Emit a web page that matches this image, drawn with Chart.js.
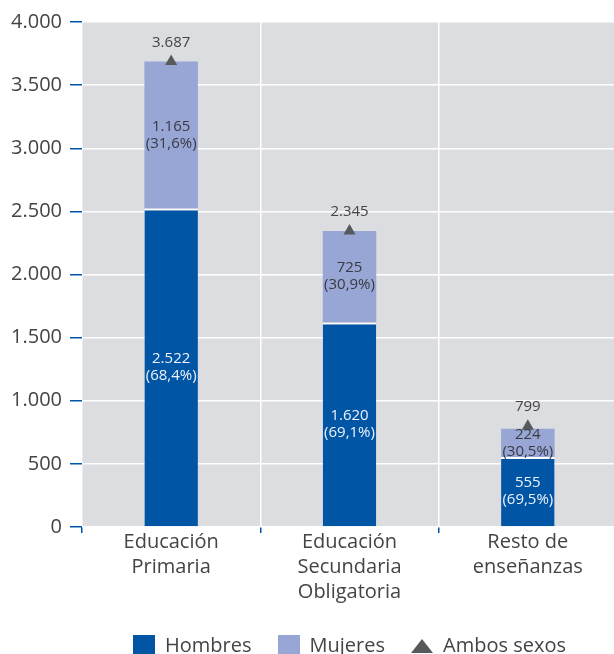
<!DOCTYPE html>
<html>
<head>
<meta charset="utf-8">
<script src="https://cdn.jsdelivr.net/npm/chart.js@4.4.0/dist/chart.umd.min.js"></script>
<style>
    html, body { margin: 0; padding: 0; background: #ffffff; overflow: hidden; }
</style>
</head>
<body>
<!-- the plot runs a few pixels past the right edge in the source, so the canvas is a bit wider than the window -->
<canvas id="chart" width="617" height="654"></canvas>
<script>
// --- Data ---
const categories = [
    ['Educación', 'Primaria'],
    ['Educación', 'Secundaria', 'Obligatoria'],
    ['Resto de', 'enseñanzas']
];
const hombres = [2522, 1620, 555];
const mujeres = [1165, 725, 224];
const ambosSexos = [3687, 2345, 799];
const hombresPct = ['68,4%', '69,1%', '69,5%'];
const mujeresPct = ['31,6%', '30,9%', '30,5%'];
const seriesLabels = ['Hombres', 'Mujeres', 'Ambos sexos'];
const yMax = 4000;
const yStep = 500;

const BLUE = '#0055a5';
const LILAC = '#97a6d4';
const DARK = '#58595b';
const TEXT = '#444444';
const FONT = "'Open Sans', sans-serif";

// Spanish thousands separator
function fmt(n) {
    return String(n).replace(/\B(?=(\d{3})+(?!\d))/g, '.');
}

// --- Small canvases used as legend icons ---
function squareIcon(color) {
    const c = document.createElement('canvas');
    c.width = 22; c.height = 22;
    const g = c.getContext('2d');
    g.fillStyle = color;
    g.fillRect(0, 0, 22, 22);
    return c;
}

function triangleIcon(color) {
    const c = document.createElement('canvas');
    c.width = 22; c.height = 22;
    const g = c.getContext('2d');
    g.fillStyle = color;
    g.beginPath();
    g.moveTo(0, 18);
    g.lineTo(11, 4);
    g.lineTo(22, 18);
    g.closePath();
    g.fill();
    return c;
}

const legendIcons = [squareIcon(BLUE), squareIcon(LILAC), triangleIcon(DARK)];

// --- Gray plot background ---
const plotBackground = {
    id: 'plotBackground',
    beforeDraw(chart) {
        const { ctx, chartArea: a } = chart;
        ctx.save();
        ctx.fillStyle = '#dcdde0';
        ctx.fillRect(a.left, a.top, a.right - a.left, a.bottom - a.top);
        ctx.restore();
    }
};

// --- Value labels inside bars and above the triangles ---
const valueLabels = {
    id: 'valueLabels',
    afterDatasetsDraw(chart) {
        const { ctx } = chart;
        ctx.save();
        ctx.textAlign = 'center';
        ctx.textBaseline = 'middle';
        ctx.font = '15px ' + FONT;

        const pctSets = [hombresPct, mujeresPct];
        const colors = ['#eef2fa', '#3a3a42'];
        [0, 1].forEach(di => {
            const meta = chart.getDatasetMeta(di);
            const values = chart.data.datasets[di].data;
            meta.data.forEach((bar, i) => {
                const cy = (bar.y + bar.base) / 2;
                ctx.fillStyle = colors[di];
                ctx.fillText(fmt(values[i]), bar.x, cy - 8.5);
                ctx.fillText('(' + pctSets[di][i] + ')', bar.x, cy + 8.5);
            });
        });

        const lineMeta = chart.getDatasetMeta(2);
        ctx.fillStyle = TEXT;
        lineMeta.data.forEach((pt, i) => {
            ctx.fillText(fmt(ambosSexos[i]), pt.x, pt.y - 19);
        });
        ctx.restore();
    }
};

const ctx = document.getElementById('chart').getContext('2d');
new Chart(ctx, {
    type: 'bar',
    data: {
        labels: categories,
        datasets: [
            {
                label: seriesLabels[0],
                data: hombres,
                backgroundColor: BLUE,
                borderColor: '#ffffff',
                borderWidth: { top: 2, left: 0, right: 0, bottom: 0 },
                borderSkipped: false,
                barPercentage: 0.3,
                categoryPercentage: 1.0,
                order: 1
            },
            {
                label: seriesLabels[1],
                data: mujeres,
                backgroundColor: LILAC,
                borderWidth: 0,
                barPercentage: 0.3,
                categoryPercentage: 1.0,
                order: 1
            },
            {
                type: 'line',
                label: seriesLabels[2],
                data: ambosSexos,
                stack: 'total',
                showLine: false,
                pointStyle: 'triangle',
                pointRadius: 7,
                pointBackgroundColor: DARK,
                pointBorderColor: DARK,
                pointBorderWidth: 0,
                order: 0
            }
        ]
    },
    options: {
        responsive: false,
        animation: false,
        layout: {
            autoPadding: false,
            padding: { top: 22, right: 0, left: 0, bottom: -12 }
        },
        scales: {
            x: {
                stacked: true,
                border: { display: false },
                grid: {
                    color: '#ffffff',
                    lineWidth: 1.5,
                    tickColor: BLUE,
                    tickLength: 6
                },
                ticks: {
                    color: TEXT,
                    padding: -3,
                    font: { family: FONT, size: 20, lineHeight: 1.25 }
                },
                afterFit(scale) {
                    scale.paddingLeft = 0;
                    scale.paddingRight = 0;
                    scale.height += 8;
                }
            },
            y: {
                stacked: true,
                min: 0,
                max: yMax,
                border: { display: false },
                grid: {
                    color: '#ffffff',
                    lineWidth: 1.5,
                    tickColor: BLUE,
                    tickLength: 12
                },
                ticks: {
                    stepSize: yStep,
                    color: TEXT,
                    padding: 8,
                    font: { family: FONT, size: 20 },
                    callback: (v) => fmt(v)
                },
                afterFit(scale) {
                    scale.width = 82;
                    scale.paddingTop = 0;
                }
            }
        },
        plugins: {
            tooltip: { enabled: false },
            legend: {
                position: 'bottom',
                fullSize: false,
                labels: {
                    usePointStyle: true,
                    boxWidth: 22,
                    boxHeight: 22,
                    pointStyleWidth: 22,
                    padding: 26,
                    color: TEXT,
                    font: { family: FONT, size: 20 },
                    generateLabels: (chart) => chart.data.datasets.map((ds, i) => ({
                        text: ds.label,
                        pointStyle: legendIcons[i],
                        fillStyle: 'transparent',
                        strokeStyle: 'transparent',
                        lineWidth: 0,
                        hidden: false,
                        fontColor: TEXT,
                        datasetIndex: i
                    }))
                }
            }
        }
    },
    plugins: [plotBackground, valueLabels]
});
</script>
</body>
</html>
